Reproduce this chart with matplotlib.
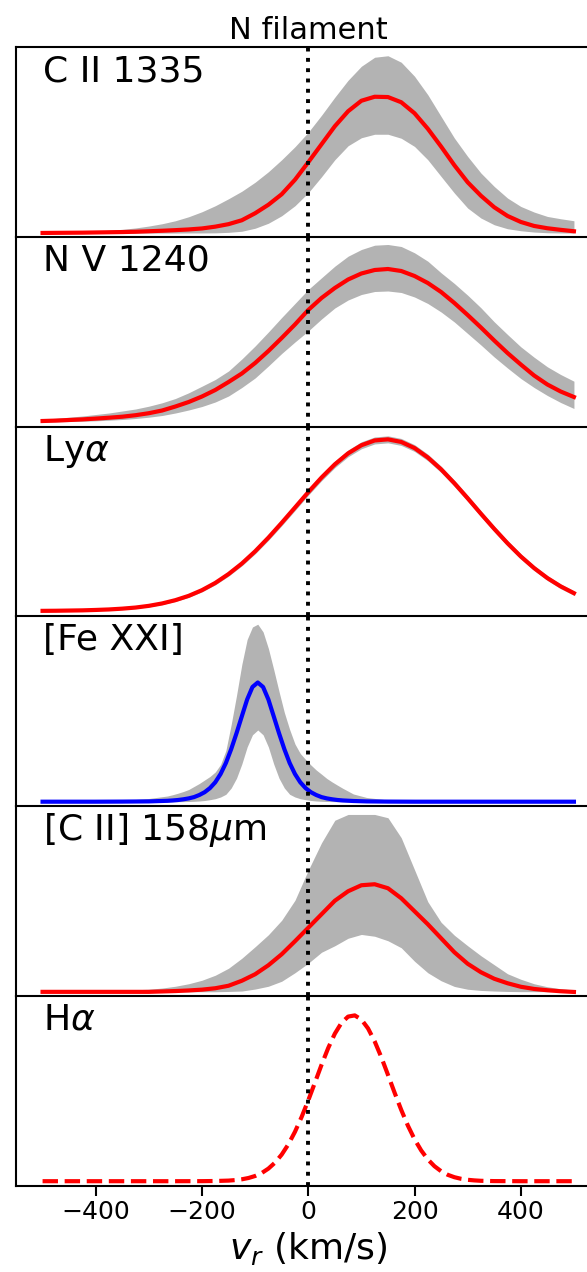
import numpy as np
import matplotlib.pyplot as plt

# velocity grid (km/s) used for most lines
vel = np.arange(-500, 501, 25)

# C II 1335 : best fit and band (arbitrary flux units)
cii_fit = [0.3, 0.4, 0.5, 0.6, 0.8, 1.0, 1.2, 1.5, 2.0, 2.5, 3.1, 3.8, 4.8, 6.6, 9.1, 13, 20, 28.5, 39, 53.5,
           71, 89, 107, 122, 132.5, 136.5, 136.2, 131, 120, 104.5, 86.7, 68, 51, 37.5, 26, 17.3, 11.3, 7.3, 5, 3.4, 2]
cii_hi = [0.7, 0.9, 1.2, 1.6, 2.2, 2.9, 3.9, 5.3, 7.2, 9.5, 12.5, 16.5, 21.5, 27.5, 34.5, 42, 51, 61.5, 73.5, 86.5,
          101, 118, 136, 153, 167, 176, 177.5, 171, 157, 138.5, 116.8, 95.2, 76.8, 60.2, 46.8, 35.2, 26.8, 21.2, 16.8, 14.5, 12.5]
cii_lo = [0.2, 0.2, 0.2, 0.2, 0.2, 0.2, 0.2, 0.2, 0.2, 0.2, 0.2, 0.3, 0.3, 0.4, 0.9, 2, 5, 10, 17.5, 27.5,
          40.5, 56.5, 73.5, 87.5, 95.5, 99, 99, 95, 86.8, 73.5, 56.8, 40.2, 25.2, 15.2, 8.5, 4.5, 2.5, 1.2, 0.5, 0.3, 0.2]

# N V 1240
nv_fit = [2, 2.4, 3, 3.6, 4.4, 5.3, 6.3, 7.8, 9.8, 12.5, 16.5, 21, 26.5, 33, 41, 49.5, 60, 72, 85, 98.5,
          113, 125, 135, 143.5, 149.5, 153, 154, 152, 147, 140, 131, 120, 108, 95.5, 82.5, 70, 58.5, 47.5, 38.5, 31.5, 26]
nv_hi = [3.8, 4.7, 5.8, 7, 8.5, 10, 12, 14, 16.8, 20.2, 24.5, 30.2, 36.8, 43.5, 52, 64, 77, 91, 105.5, 119.5,
         133.5, 145.2, 156.8, 166.8, 173.5, 177.8, 178.5, 176.5, 170.2, 161.8, 150.2, 139.5, 127.8, 115.2, 101.2, 88.5, 76.2, 65.8, 56.2, 48.5, 41.8]
nv_lo = [1.0, 1.2, 1.5, 1.8, 2.2, 2.8, 3.5, 4.5, 5.8, 7.5, 10, 13, 16.5, 21, 27, 35.5, 45, 57, 69.5, 81,
         92, 104, 115, 123, 128.5, 131.5, 132, 130.5, 126, 119.5, 111, 101, 89.5, 78, 66, 55, 44.5, 35.5, 27.5, 20.5, 14.5]

# Ly alpha (fit and +/- error)
lya_fit = [1.9, 2.0, 2.2, 2.4, 2.8, 3.3, 4.1, 5.2, 6.9, 9.3, 12.6, 16.9, 22.6, 29.8, 38.7, 49.2, 61.4, 75.1, 89.9, 105.2,
           120.6, 135.2, 148.4, 159.4, 167.5, 172.3, 173.4, 170.8, 164.7, 155.3, 143.4, 129.5, 114.5, 99, 83.9, 69.5, 56.3, 44.7, 34.7, 26.4, 19.6]
lya_err = [0.8, 0.8, 0.8, 0.8, 0.8, 0.8, 0.8, 0.9, 1.0, 1.1, 1.3, 1.5, 1.7, 1.9, 2.1, 2.3, 2.5, 2.7, 2.9, 3.0,
           3.1, 3.2, 3.3, 3.4, 3.5, 3.5, 3.5, 3.5, 3.4, 3.3, 3.2, 3.1, 3.0, 2.9, 2.8, 2.7, 2.6, 2.5, 2.4, 2.3, 2.2]

# [Fe XXI] - narrow line, finer sampling in the core
fe_vel = [-500, -450, -400, -350, -300, -265,
          -255, -245, -235, -225, -215, -205, -195, -185, -175, -165, -155, -145, -135, -125, -115, -105,
          -95, -85, -75, -65, -55, -45, -35, -25, -15, -5, 5, 15, 25, 35, 45, 55, 65,
          85, 110, 150, 200, 300, 400, 500]
fe_fit = [0.8, 0.8, 0.8, 0.9, 1.1, 1.7,
          2.05, 2.5, 3.2, 4.1, 5.4, 7.5, 10.3, 14.4, 20.2, 28.5, 39.5, 53.4, 69.3, 86.2, 103, 115.5,
          120, 115.5, 103, 86.2, 69.3, 53.4, 39.5, 28.5, 20.2, 14.4, 10.3, 7.5, 5.4, 4.1, 3.2, 2.5, 2.05,
          1.5, 1.1, 0.9, 0.8, 0.8, 0.8, 0.8]
fe_hi = [1.0, 1.0, 1.3, 2.0, 4.0, 6.5,
         7.8, 9.3, 11, 13, 16, 19, 22.5, 26, 30.5, 38, 52, 78, 107, 138, 163, 175.5,
         178.3, 170.6, 154, 133, 111, 90, 73, 58.5, 49, 43, 37.5, 32.5, 28.3, 24, 20.5, 17.3, 14.2,
         8.5, 5, 2.5, 1.5, 1.0, 1.0, 1.0]
fe_lo = [0.6, 0.6, 0.6, 0.6, 0.6, 0.6,
         0.7, 0.8, 0.9, 1.0, 1.2, 1.5, 2.0, 2.8, 3.8, 5.5, 8.2, 14.5, 24.3, 38.5, 55.5, 67.7,
         72.5, 67.7, 55.5, 38.5, 24.3, 14.5, 8.2, 5.5, 3.8, 2.8, 2.0, 1.5, 1.2, 1.0, 0.9, 0.8, 0.7,
         0.6, 0.6, 0.6, 0.6, 0.6, 0.6, 0.6]

# [C II] 158 micron
c158_fit = [0.4, 0.4, 0.4, 0.4, 0.4, 0.4, 0.4, 0.4, 0.4, 0.8, 1.2, 1.8, 2.6, 4, 6.5, 11.5, 18, 27, 38, 51,
            64.5, 78, 91.5, 101, 107, 108, 104, 94, 81, 68, 54, 40, 28.5, 20, 13.5, 9, 5.5, 3.3, 2, 1, 0.3]
c158_hi = [0.5, 0.6, 0.8, 1.0, 1.3, 1.7, 2.2, 2.5, 3, 4.2, 6, 8.5, 12, 17, 24, 34, 45.5, 57.5, 72, 92,
           122, 149.5, 172, 177.8, 177.8, 177.8, 174.5, 154.5, 122.5, 90.5, 70, 57, 46.5, 36.5, 27.5, 18.5, 13, 8.5, 5.5, 3.5, 2.2]
c158_lo = [0.5, 0.5, 0.5, 0.5, 0.5, 0.5, 0.5, 0.5, 0.5, 0.5, 0.5, 0.5, 0.5, 0.5, 0.8, 1.2, 3.2, 6, 11, 19.5,
           29, 40, 46.5, 54, 57.8, 56, 51.5, 44.5, 31, 19.5, 11.5, 5.8, 3, 1.8, 1.2, 0.8, 0.6, 0.6, 0.6, 0.6, 0.6]

# H alpha (no band)
ha_vel = [-500, -450, -400, -350, -300, -250, -200, -175,
          -150, -137.5, -125, -112.5, -100, -87.5, -75, -62.5, -50, -37.5, -25, -12.5,
          0, 12.5, 25, 37.5, 50, 62.5, 75, 87.5, 100, 112.5, 125, 137.5, 150, 162.5, 175, 187.5,
          200, 212.5, 225, 237.5, 250, 262.5, 275, 287.5, 300, 312.5, 325,
          350, 400, 450, 500]
ha_fit = [0.8, 0.8, 0.8, 0.8, 0.8, 0.8, 0.85, 1.0,
          1.4, 1.9, 2.7, 4.0, 6.0, 9.0, 13.4, 19.4, 27.4, 37.6, 50.2, 65,
          81.6, 99.3, 117.2, 133.9, 148.3, 159.1, 165.4, 166.6, 162.5, 153.6, 140.6, 124.8, 107.2, 89.3, 72.1, 56.4,
          42.8, 31.6, 22.6, 15.8, 10.8, 7.2, 4.8, 3.2, 2.2, 1.6, 1.2,
          0.9, 0.8, 0.8, 0.8]

labels = ['C II 1335', 'N V 1240', r'Ly$\alpha$', '[Fe XXI]', r'[C II] 158$\mu$m', r'H$\alpha$']

fig = plt.figure(figsize=(5.87, 12.72), dpi=100)

# panel geometry (figure fractions); right edge runs past the figure like the original crop
left = 16 / 587
width = 584.5 / 587
ph = 189.75 / 1272
top = (1272 - 47) / 1272

axes = []
for i in range(6):
    ax = fig.add_axes([left, top - (i + 1) * ph, width, ph])
    axes.append(ax)

lya = np.array(lya_fit)
lya_e = np.array(lya_err)
bands = [(vel, cii_fit, cii_lo, cii_hi, 'r'),
         (vel, nv_fit, nv_lo, nv_hi, 'r'),
         (vel, lya_fit, lya - lya_e, lya + lya_e, 'r'),
         (fe_vel, fe_fit, fe_lo, fe_hi, 'b'),
         (vel, c158_fit, c158_lo, c158_hi, 'r')]

for ax, (x, y, lo, hi, c) in zip(axes[:5], bands):
    ax.fill_between(x, lo, hi, color='0.7', lw=0)
    ax.plot(x, y, color=c, lw=3)

axes[5].plot(ha_vel, ha_fit, color='r', lw=3, ls='--')

for i, ax in enumerate(axes):
    ax.axvline(0, color='k', ls=':', lw=2.8)
    ax.set_xlim(-550, 550)
    ax.set_ylim(-3.5, 186.25)
    ax.set_yticks([])
    for s in ax.spines.values():
        s.set_linewidth(1.5)
    ax.spines['right'].set_visible(False)
    if i < 5:
        ax.spines['bottom'].set_visible(False)
        ax.tick_params(axis='x', bottom=False, labelbottom=False)
    ax.text(-500, 0.82, labels[i], transform=ax.get_xaxis_transform(), fontsize=26, va='baseline')

axes[0].set_title('N filament', fontsize=22)
axes[5].set_xticks([-400, -200, 0, 200, 400])
axes[5].tick_params(axis='x', length=7, width=1.5, labelsize=18)
axes[5].set_xlabel(r'$v_r$ (km/s)', fontsize=26)

fig.savefig('out.png', dpi=100)
